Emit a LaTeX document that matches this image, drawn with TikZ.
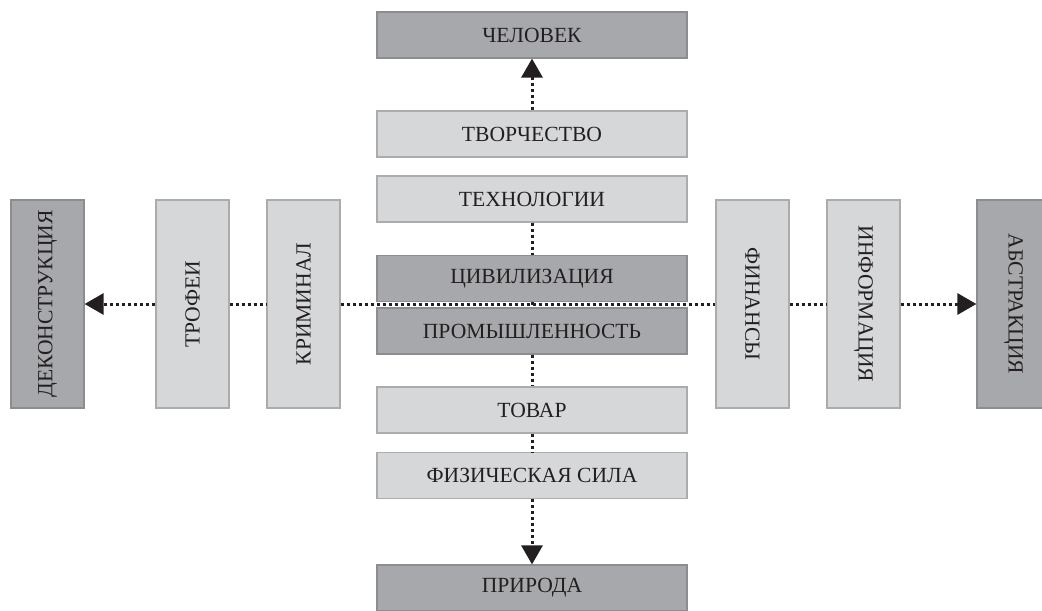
\documentclass[tikz,border=0pt]{standalone}
\usepackage{fontspec}
\setmainfont{Liberation Serif}
\usepackage{graphicx}
\usepackage{xcolor}
\usepackage{tikz}
\usetikzlibrary{arrows.meta}
\definecolor{figtext}{HTML}{231F20}
\definecolor{figdark}{HTML}{A7A8AB}
\definecolor{figdarkframe}{HTML}{8C8D90}
\definecolor{figlight}{HTML}{D6D7D9}
\definecolor{figlightframe}{HTML}{ABACAE}
\definecolor{figdots}{HTML}{231F20}
\tikzset{
  figbox/.style={inner sep=0pt, line width=0.6pt, text=figtext, font=\fontsize{10.8}{12}\selectfont},
  hbox/.style={figbox, minimum width=155pt, minimum height=23pt},
  vbox/.style={figbox, minimum width=36.5pt, minimum height=104pt},
  darkbox/.style={fill=figdark, draw=figdarkframe},
  lightbox/.style={fill=figlight, draw=figlightframe},
  figdotted/.style={draw=figdots, line width=1.5pt, dash pattern=on 1.5pt off 1.5pt},
  figarrow/.style={figdotted, -{Triangle[length=9.5pt,width=10.5pt]}}
}

\begin{document}
\begin{tikzpicture}[x=0.5pt,y=-0.5pt]
  \useasboundingbox (0,0) rectangle (1042,610);
  \def\colx{532}  \def\rowy{304}
  % vertical column
  \node[hbox,darkbox]  (chelovek)    at (\colx,35)    {ЧЕЛОВЕК};
  \node[hbox,lightbox] (tvorchestvo) at (\colx,134)   {ТВОРЧЕСТВО};
  \node[hbox,lightbox] (tehnologii)  at (\colx,199)   {ТЕХНОЛОГИИ};
  \node[hbox,darkbox]  (civilizacia) at (\colx,278.5) {ЦИВИЛИЗАЦИЯ};
  \node[hbox,darkbox]  (promyshl)    at (\colx,331)   {ПРОМЫШЛЕННОСТЬ};
  \node[hbox,lightbox] (tovar)       at (\colx,410)   {ТОВАР};
  \node[hbox,lightbox] (fizsila)     at (\colx,475.5) {ФИЗИЧЕСКАЯ СИЛА};
  \node[hbox,darkbox]  (priroda)     at (\colx,588)   {ПРИРОДА};
  % horizontal row (left texts read upwards, right texts downwards)
  \node[vbox,darkbox]  (dekonstr)    at (47.5,\rowy)   {\rotatebox{90}{ДЕКОНСТРУКЦИЯ}};
  \node[vbox,lightbox] (trofei)      at (192.5,\rowy)  {\rotatebox{90}{ТРОФЕИ}};
  \node[vbox,lightbox] (kriminal)    at (303.5,\rowy)  {\rotatebox{90}{КРИМИНАЛ}};
  \node[vbox,lightbox] (finansy)     at (752.5,\rowy)  {\rotatebox{-90}{ФИНАНСЫ}};
  \node[vbox,lightbox] (informacia)  at (863.5,\rowy)  {\rotatebox{-90}{ИНФОРМАЦИЯ}};
  \node[vbox,darkbox]  (abstrakcia)  at (1013.5,\rowy) {\rotatebox{-90}{АБСТРАКЦИЯ}};
  % dotted links, vertical
  \draw[figarrow]  (tvorchestvo.north) -- (chelovek.south);
  \draw[figdotted] (tehnologii.south) -- (civilizacia.north);
  \draw[figdotted] (civilizacia.south) -- (promyshl.north);
  \draw[figdotted] (promyshl.south) -- (tovar.north);
  \draw[figdotted] (tovar.south) -- (fizsila.north);
  \draw[figarrow]  (fizsila.south) -- (priroda.north);
  % dotted links, horizontal
  \draw[figarrow]  (trofei.west) -- (dekonstr.east);
  \draw[figdotted] (trofei.east) -- (kriminal.west);
  \draw[figdotted] (kriminal.east) -- (finansy.west);
  \draw[figdotted] (finansy.east) -- (informacia.west);
  \draw[figarrow]  (informacia.east) -- (abstrakcia.west);
\end{tikzpicture}
\end{document}
